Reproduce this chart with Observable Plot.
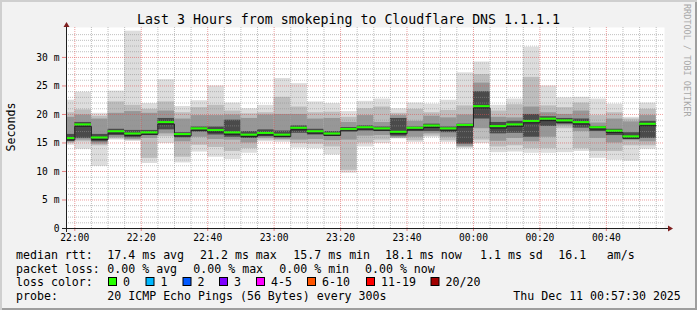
<!DOCTYPE html>
<html><head><meta charset="utf-8">
<script src="https://cdn.jsdelivr.net/npm/d3@7"></script>
<script src="https://cdn.jsdelivr.net/npm/@observablehq/plot@0.6"></script>
<style>
html,body{margin:0;padding:0;background:#f2f2f2;}
#wrap{position:relative;width:697px;height:310px;background:#f2f2f2;overflow:hidden;box-shadow: inset 2px 2px 0 #cfcfcf, inset -2px -2px 0 #9e9e9e;}
#wrap svg{position:absolute;left:0;top:0;}
</style></head><body><div id="wrap"></div>
<script>
// ---------- data ----------
const binStart = ["21:55","22:00","22:05","22:10","22:15","22:20","22:25","22:30","22:35","22:40","22:45","22:50",
  "22:55","23:00","23:05","23:10","23:15","23:20","23:25","23:30","23:35","23:40","23:45","23:50",
  "23:55","00:00","00:05","00:10","00:15","00:20","00:25","00:30","00:35","00:40","00:45","00:50"];
const pMin = [14.6,13.9,10.9,15.5,15.3,11.4,14.9,11.5,13.4,12.5,12.1,13.2,15.2,15.1,14.1,14.0,12.9,9.7,14.3,14.9,15.7,15.1,16.0,15.1,14.0,14.9,13.3,13.4,13.2,13.2,13.3,13.5,12.3,12.0,11.8,13.9];
const pLo2 = [14.9,15.2,14.5,15.7,15.4,12.3,16.1,12.5,14.6,14.2,13.5,14.0,15.5,15.4,14.9,14.8,14.3,10.2,15.0,15.5,15.8,15.4,16.2,15.4,14.2,15.5,14.3,14.5,14.0,14.0,17.5,14.0,13.5,13.5,14.5,14.5];
const pLo3 = [15.1,15.5,14.8,15.9,15.6,15.8,16.6,15.2,16.0,15.6,15.5,15.0,15.8,15.6,15.5,15.6,15.4,15.5,16.2,16.3,15.9,16.0,16.6,16.0,14.4,17.5,15.3,15.8,15.2,16.0,18.0,17.0,15.8,15.0,15.4,15.2];
const pLo4 = [15.3,15.8,15.2,16.3,15.9,16.3,17.3,15.9,16.9,16.4,16.0,15.8,16.1,15.9,16.7,16.4,16.2,17.0,17.1,17.0,16.2,17.0,17.0,16.8,14.8,19.2,16.6,16.7,16.0,17.9,18.3,17.6,17.0,16.3,15.7,15.8];
const median = [15.7,18.1,15.8,16.9,16.5,16.7,18.5,16.4,17.4,17.1,16.7,16.3,16.6,16.3,17.5,16.9,16.5,17.3,17.6,17.4,16.8,17.5,17.9,17.4,18.0,21.3,17.8,18.1,18.7,19.1,18.8,18.5,17.6,17.0,16.0,18.2];
const pHi4 = [16.5,18.6,16.5,17.4,17.2,17.2,19.3,16.8,17.8,17.8,19.0,17.0,17.3,17.1,18.0,17.4,17.0,17.7,18.0,17.8,19.3,17.8,18.3,17.8,18.3,24.0,18.6,18.8,20.0,19.6,19.3,19.2,17.9,17.4,16.8,18.8];
const pHi3 = [19.5,19.9,19.2,20.2,20.5,20.2,20.6,19.2,19.8,19.8,19.9,19.3,19.9,20.0,20.0,19.2,19.3,18.6,19.8,18.6,19.8,18.8,19.7,19.4,19.9,25.5,19.5,19.4,21.3,20.3,20.0,20.6,18.5,19.2,18.7,19.8];
const pHi2 = [20.3,20.8,19.7,22.2,21.6,20.9,22.2,20.3,21.2,21.6,20.6,20.1,20.3,23.0,21.3,20.3,20.4,19.5,21.0,21.3,20.2,20.9,20.3,20.7,21.5,27.0,20.6,21.7,26.5,21.5,21.2,22.0,19.8,20.3,19.2,20.9];
const pMax = [22.5,23.9,20.2,24.1,34.6,21.9,26.1,21.4,22.4,25.0,22.0,21.0,21.6,26.3,25.4,22.2,21.9,20.5,22.3,22.7,21.0,22.0,21.8,22.5,27.3,29.2,21.6,22.7,31.8,25.0,22.9,23.0,22.7,21.8,19.5,22.0];

const yTicks = [0,5,10,15,20,25,30];
const yTickLabels = ["0","5 m","10 m","15 m","20 m","25 m","30 m"];
const xTickLabels = ["22:00","22:20","22:40","23:00","23:20","23:40","00:00","00:20","00:40"];

const titleText = "Last 3 Hours from smokeping to Cloudflare DNS 1.1.1.1";
const yLabelText = "Seconds";
const watermarkText = "RRDTOOL / TOBI OETIKER";
const rttLabel = "median rtt:";
const rttStats = ["17.4 ms avg","21.2 ms max","15.7 ms min","18.1 ms now","1.1 ms sd","16.1","am/s"];
const lossLabel = "packet loss:";
const lossStats = ["0.00 % avg","0.00 % max","0.00 % min","0.00 % now"];
const lossColorLabel = "loss color:";
const lossBins = ["0","1","2","3","4-5","6-10","11-19","20/20"];
const lossBinColors = ["#26ff00","#00b8ff","#0059ff","#7e00ff","#ff00ff","#ff5500","#ff0000","#a10000"];
const probeLabel = "probe:";
const probeText = "20 ICMP Echo Pings (56 Bytes) every 300s";
const dateText = "Thu Dec 11 00:57:30 2025";

// ---------- build ----------
const parseT = s => { const [h,m] = s.split(":").map(Number); return new Date(Date.UTC(2025, 11, h >= 12 ? 10 : 11, h, m)); };
const stepMs = 5*60*1000;
const tStart = new Date(Date.UTC(2025,11,10,21,57,30));
const tEnd = new Date(Date.UTC(2025,11,11,0,57,30));
const bins = binStart.map((s,i) => {
  const x1 = parseT(s);
  return {x1, x2: new Date(+x1 + stepMs), min: pMin[i], lo2: pLo2[i], lo3: pLo3[i], lo4: pLo4[i],
    med: median[i], hi4: pHi4[i], hi3: pHi3[i], hi2: pHi2[i], max: pMax[i]};
});
const medPts = bins.map(b => ({t: b.x1, v: b.med})).concat([{t: bins[bins.length-1].x2, v: bins[bins.length-1].med}]);
const layers = [["min","max","#dddddd"],["lo2","hi2","#bdbdbd"],["lo3","hi3","#979797"],["lo4","hi4","#4a4a4a"]];
const majorX = xTickLabels.map(parseT);
const xLab = new Map(majorX.map((d,i) => [+d, xTickLabels[i]]));
const yLab = new Map(yTicks.map((v,i) => [v, yTickLabels[i]]));
const minorX = d3.utcMinute.every(5).range(tStart, tEnd).filter(d => d.getUTCMinutes() % 20 !== 0);
const minorY = d3.range(1, 35).filter(v => v % 5 !== 0);
const majorY = yTicks.filter(v => v > 0);

const gridMinor = {stroke: "#8f8f8f", strokeOpacity: 0.56, strokeDasharray: "1,1"};
const gridMajor = {stroke: "#de5050", strokeOpacity: 0.56, strokeDasharray: "1,1"};

const plot = Plot.plot({
  width: 697, height: 248,
  marginLeft: 66, marginRight: 33, marginTop: 27, marginBottom: 20,
  style: {background: "transparent", fontFamily: "'DejaVu Sans Mono', monospace", fontSize: "9.65px", color: "black", overflow: "visible"},
  x: {type: "utc", domain: [tStart, tEnd]},
  y: {domain: [0, 35.25]},
  marks: [
    Plot.frame({fill: "white", stroke: "none"}),
    ...layers.map(([a,b,c]) => Plot.rect(bins, {x1: "x1", x2: "x2", y1: a, y2: b, fill: c, clip: true})),
    Plot.ruleY(minorY, gridMinor),
    Plot.ruleX(minorX, gridMinor),
    Plot.ruleY(majorY, gridMajor),
    Plot.ruleX(majorX, gridMajor),
    Plot.line(medPts, {x: "t", y: d => d.v - 0.18, curve: "step-after", stroke: "#202020", strokeWidth: 1, clip: true}),
    Plot.rect(bins, {x1: "x1", x2: "x2", y1: d => d.med - 0.1, y2: d => d.med + 0.25, fill: "#26ff00", clip: true}),
    Plot.axisY(yTicks, {tickSize: 4, tickPadding: 3, tickFormat: v => yLab.get(v), stroke: "#de5050", strokeOpacity: 0.7}),
    Plot.axisX(majorX, {tickSize: 3, tickPadding: 3, tickFormat: d => xLab.get(+d), stroke: "#de5050", strokeOpacity: 0.7})
  ]
});
document.getElementById("wrap").appendChild(plot);

// axis lines and arrows (decoration)
const ps = d3.select(plot);
const xs = plot.scale("x"), ys = plot.scale("y");
const x0 = xs.range[0], x1r = xs.range[1], y0 = ys.range[0], y1r = ys.range[1];
ps.append("line").attr("x1", x0 - 4).attr("x2", x1r + 4).attr("y1", y0 + 0.5).attr("y2", y0 + 0.5).attr("stroke", "#1f1f1f");
ps.append("line").attr("x1", x0 + 0.5).attr("x2", x0 + 0.5).attr("y1", y0 + 4).attr("y2", y1r - 1).attr("stroke", "#1f1f1f");
ps.append("polygon").attr("points", `${x1r+4},${y0-2.5} ${x1r+4},${y0+3.5} ${x1r+9},${y0+0.5}`).attr("fill", "#7f1f1f");
ps.append("polygon").attr("points", `${x0-2.5},${y1r} ${x0+3.5},${y1r} ${x0+0.5},${y1r-5}`).attr("fill", "#7f1f1f");

// text overlay
const ov = d3.select("#wrap").append("svg").attr("width", 697).attr("height", 310)
  .style("font-family", "'DejaVu Sans Mono', monospace").style("pointer-events", "none");
ov.append("text").attr("x", 348.5).attr("y", 24).attr("text-anchor", "middle").attr("font-size", "13.25px").attr("fill", "#000").text(titleText);
ov.append("text").attr("transform", "translate(15,127) rotate(-90)").attr("text-anchor", "middle").attr("font-size", "11.6px").attr("fill", "#000").text(yLabelText);
ov.append("text").attr("transform", "translate(684,4) rotate(90)").attr("font-size", "8.5px").attr("fill", "#a8a8a8").text(watermarkText);

const legFont = "11.6px";
const rowY = [259, 272.7, 286.3, 300];
const leftX = 16;
const rttX = [107.3, 200, 293.3, 385, 480, 558.3, 606.7];
const lossX = [107.3, 193.3, 279.3, 365];
const boxX = [108, 145.5, 182.5, 219, 256, 307, 366, 430.5];
const put = (x, y, s) => ov.append("text").attr("x", x).attr("y", y).attr("font-size", legFont).attr("fill", "#000").style("white-space", "pre").text(s);
put(leftX, rowY[0], rttLabel);
rttStats.forEach((s,i) => put(rttX[i], rowY[0], s));
put(leftX, rowY[1], lossLabel);
lossStats.forEach((s,i) => put(lossX[i], rowY[1], s));
put(leftX, rowY[2], lossColorLabel);
lossBins.forEach((s,i) => {
  ov.append("rect").attr("x", boxX[i] + 0.5).attr("y", 277.5).attr("width", 8).attr("height", 8)
    .attr("fill", lossBinColors[i]).attr("stroke", "#000").attr("stroke-width", 1);
  put(boxX[i] + 15, rowY[2], s);
});
put(leftX, rowY[3], probeLabel);
put(107.3, rowY[3], probeText);
put(513.3, rowY[3], dateText);
</script></body></html>
